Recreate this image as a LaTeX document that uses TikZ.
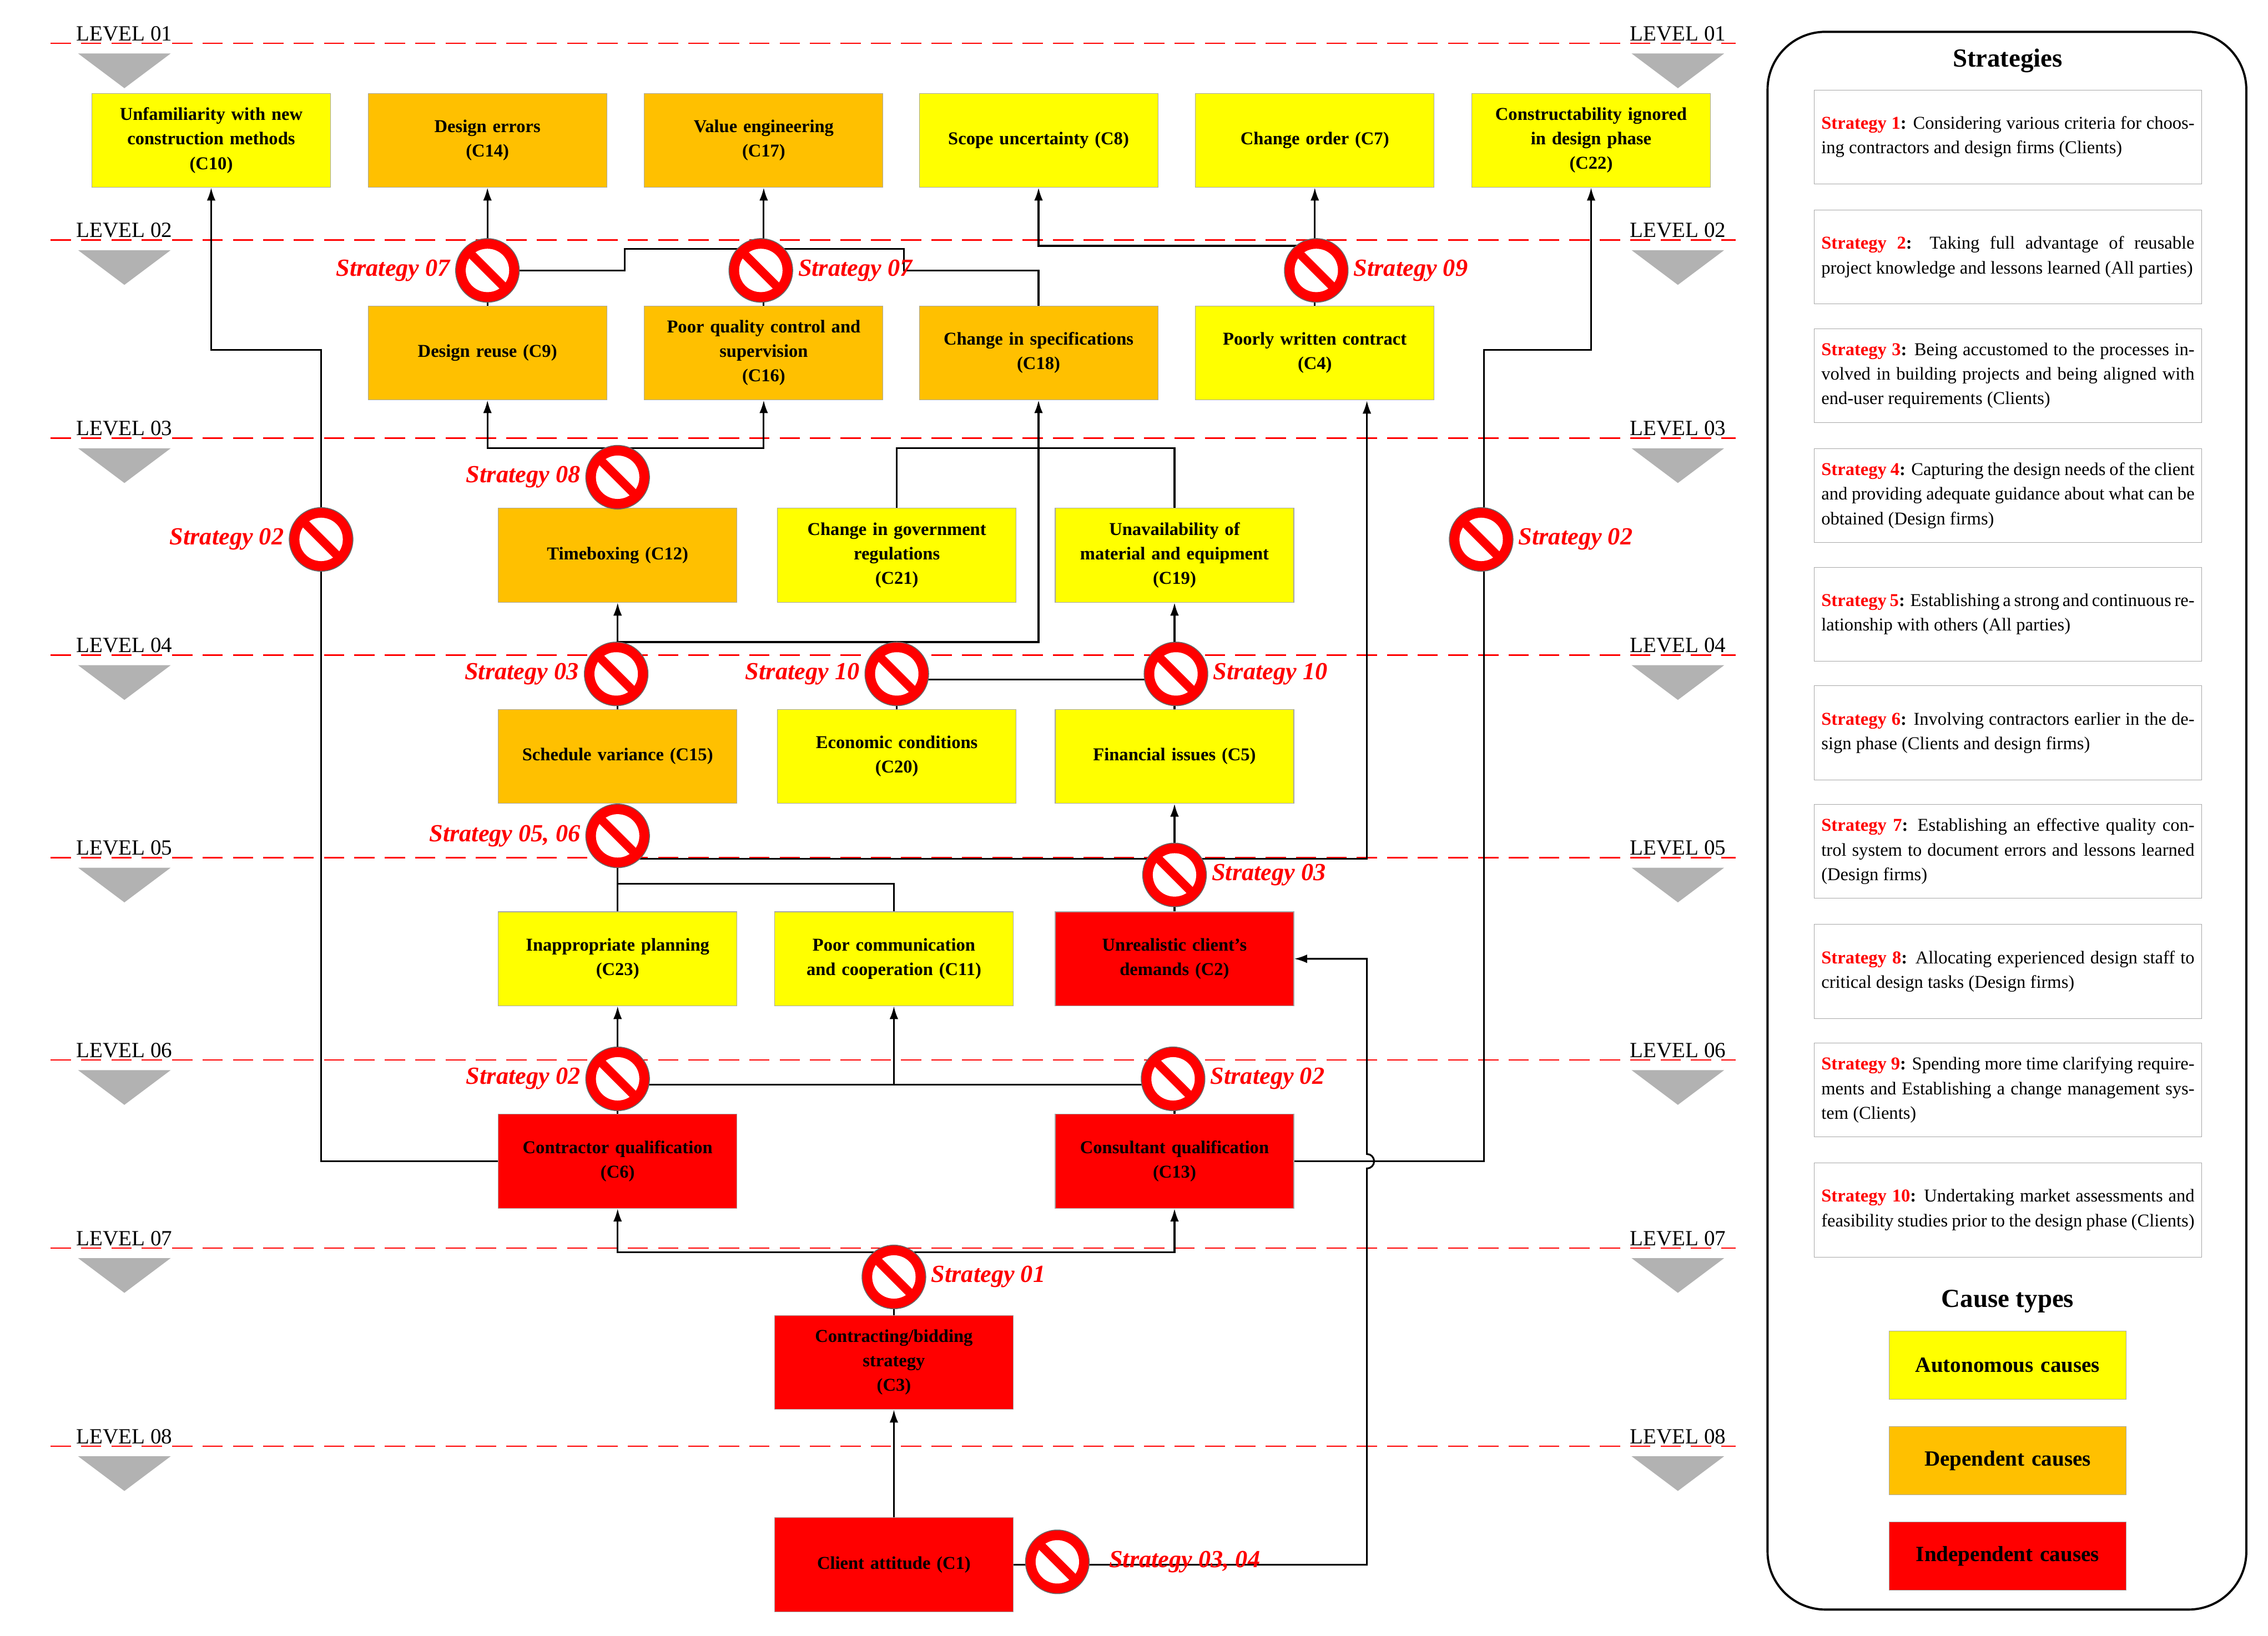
\documentclass[tikz,border=0pt]{standalone}
\usepackage{fontspec}
\setmainfont{Liberation Serif}
\usetikzlibrary{arrows.meta}
\definecolor{orC}{HTML}{FFC000}
\definecolor{yeC}{HTML}{FFFF00}
\definecolor{rdC}{HTML}{FF0000}
\begin{document}
\begin{tikzpicture}[x=1pt,y=-1pt,
 box/.style={draw=gray!70, minimum width=165pt, minimum height=65pt, align=center, text width=158pt, inner sep=1pt, font=\fontsize{12.5}{17}\selectfont\bfseries},
 ya/.style={box,fill=yeC}, oa/.style={box,fill=orC}, ra/.style={box,fill=rdC},
 ar/.style={-{Latex[length=9pt,width=6pt]}, line width=1.2pt},
 ln/.style={line width=1.2pt},
 sl/.style={font=\fontsize{17}{17}\selectfont\bfseries\itshape, text=rdC},
 lv/.style={font=\fontsize{15}{15}\selectfont},
 tri/.style={fill=gray!60, draw=none},
 no/.style={circle, minimum size=44pt, inner sep=0pt, fill=rdC, draw=black!60, line width=0.6pt,
   path picture={\fill[white] (path picture bounding box.center) circle (15pt);
   \draw[rdC, line width=6pt] ([shift={(-12pt,12pt)}]path picture bounding box.center) -- ([shift={(12pt,-12pt)}]path picture bounding box.center);}},
 sb/.style={draw=gray!70, text width=258pt, minimum height=65pt, align=justify, inner sep=5pt, font=\fontsize{12.5}{17}\selectfont, anchor=north west}
]
\useasboundingbox (0,0) rectangle (1568,1131);
\fill[white] (0,0) rectangle (1568,1131);
% levels
\foreach \y/\l in {30/01,166/02,303/03,453/04,593/05,733/06,863/07,1000/08}{
 \draw[rdC, dashed, dash pattern=on 14pt off 7pt, line width=1pt] (35,\y) -- (1200,\y);
 \node[lv, anchor=south] at (86,\y+2) {LEVEL \l};
 \node[lv, anchor=south] at (1160,\y+2) {LEVEL \l};
 \fill[tri] (54,\y+7) -- (118,\y+7) -- (86,\y+31) -- cycle;
 \fill[tri] (1128,\y+7) -- (1192,\y+7) -- (1160,\y+31) -- cycle;
}
% boxes
\node[ya] (C10) at (146,97) {Unfamiliarity with new\\construction methods\\(C10)};
\node[oa] (C14) at (337,97) {Design errors\\(C14)};
\node[oa] (C17) at (528,97) {Value engineering\\(C17)};
\node[ya] (C8) at (718,97) {Scope uncertainty (C8)};
\node[ya] (C7) at (909,97) {Change order (C7)};
\node[ya] (C22) at (1100,97) {Constructability ignored\\in design phase\\(C22)};
\node[oa] (C9) at (337,244) {Design reuse (C9)};
\node[oa] (C16) at (528,244) {Poor quality control and\\supervision\\(C16)};
\node[oa] (C18) at (718,244) {Change in specifications\\(C18)};
\node[ya] (C4) at (909,244) {Poorly written contract\\(C4)};
\node[oa] (C12) at (427,384) {Timeboxing (C12)};
\node[ya] (C21) at (620,384) {Change in government\\regulations\\(C21)};
\node[ya] (C19) at (812,384) {Unavailability of\\material and equipment\\(C19)};
\node[oa] (C15) at (427,523) {Schedule variance (C15)};
\node[ya] (C20) at (620,523) {Economic conditions\\(C20)};
\node[ya] (C5) at (812,523) {Financial issues (C5)};
\node[ya] (C23) at (427,663) {Inappropriate planning\\(C23)};
\node[ya] (C11) at (618,663) {Poor communication\\and cooperation (C11)};
\node[ra] (C2) at (812,663) {Unrealistic client's\\demands (C2)};
\node[ra] (C6) at (427,803) {Contractor qualification\\(C6)};
\node[ra] (C13) at (812,803) {Consultant qualification\\(C13)};
\node[ra] (C3) at (618,942) {Contracting/bidding\\strategy\\(C3)};
\node[ra] (C1) at (618,1082) {Client attitude (C1)};
% connectors
\draw[ar] (C9) -- (C14);
\draw[ln] (C18.north) -- (718,187) -- (625,187) -- (625,172) -- (432,172) -- (432,187) -- (337,187);
\draw[ar] (C16) -- (C17);
\draw[ar] (C4) -- (C7);
\draw[ar] (909,170) -| (C8.south);
\draw[ar] (C6.west) -| (222,242) -| (C10.south);
\draw[ar] (C13.east) -| (1026,242) -| (C22.south);
\draw[ar] (C12.north) -- (427,310) -| (C9.south);
\draw[ar] (427,310) -| (C16.south);
\draw[ln] (C21.north) |- (812,310) -- (C19.north);
\draw[ar] (C15) -- (C12);
\draw[ar] (427,444) -| (C18.south);
\draw[ln] (C20.north) |- (812,470);
\draw[ar] (C5) -- (C19);
\draw[ar] (C23) -- (C15);
\draw[ln] (427,611) -| (C11.north);
\draw[ar] (427,594) -| (945,277);
\draw[ar] (C2) -- (C5);
\draw[ar] (C6) -- (C23);
\draw[ln] (427,750) -- (812,750) -- (C13.north);
\draw[ar] (618,750) -- (C11.south);
\draw[ar] (C3.north) -- (618,866) -| (C6.south);
\draw[ar] (618,866) -| (C13.south);
\draw[ar] (C1) -- (C3);
\draw[ar] (C1.east) -- (945,1082) -- (945,808) arc[start angle=-90,end angle=90,radius=5pt] -- (945,663) -- (C2.east);
% strategy icons
\node[no] (n1) at (337,187) {}; \node[sl, anchor=east] at (n1.west) {Strategy 07};
\node[no] (n2) at (526,187) {}; \node[sl, anchor=west] at (n2.east) {Strategy 07};
\node[no] (n3) at (910,187) {}; \node[sl, anchor=west] at (n3.east) {Strategy 09};
\node[no] (n4) at (427,330) {}; \node[sl, anchor=east] at (n4.west) {Strategy 08};
\node[no] (n5) at (222,373) {}; \node[sl, anchor=east] at (n5.west) {Strategy 02};
\node[no] (n6) at (1024,373) {}; \node[sl, anchor=west] at (n6.east) {Strategy 02};
\node[no] (n7) at (426,466) {}; \node[sl, anchor=east] at (n7.west) {Strategy 03};
\node[no] (n8) at (620,466) {}; \node[sl, anchor=east] at (n8.west) {Strategy 10};
\node[no] (n9) at (813,466) {}; \node[sl, anchor=west] at (n9.east) {Strategy 10};
\node[no] (n10) at (427,578) {}; \node[sl, anchor=east] at (n10.west) {Strategy 05, 06};
\node[no] (n11) at (812,605) {}; \node[sl, anchor=west] at (n11.east) {Strategy 03};
\node[no] (n12) at (427,746) {}; \node[sl, anchor=east] at (n12.west) {Strategy 02};
\node[no] (n13) at (811,746) {}; \node[sl, anchor=west] at (n13.east) {Strategy 02};
\node[no] (n14) at (618,883) {}; \node[sl, anchor=west] at (n14.east) {Strategy 01};
\node[no] (n15) at (731,1080) {}; \node[sl, anchor=west] at ([xshift=10pt]n15.east) {Strategy 03, 04};
% right panel
\draw[line width=1.5pt, rounded corners=40pt] (1222,22) rectangle (1553,1113);
\node[font=\fontsize{18}{18}\selectfont\bfseries] at (1388,42) {Strategies};
\newcommand\stlab[1]{\textcolor{rdC}{\textbf{Strategy #1}}\textbf{:}}
\node[sb] (S1) at (1254,62) {\stlab{1} Considering various criteria for choosing contractors and design firms (Clients)};
\node[sb] (S2) at (1254,145) {\stlab{2} Taking full advantage of reusable project knowledge and lessons learned (All parties)};
\node[sb] (S3) at (1254,227) {\stlab{3} Being accustomed to the processes involved in building projects and being aligned with end-user requirements (Clients)};
\node[sb] (S4) at (1254,310) {\stlab{4} Capturing the design needs of the client and providing adequate guidance about what can be obtained (Design firms)};
\node[sb] (S5) at (1254,392) {\stlab{5} Establishing a strong and continuous relationship with others (All parties)};
\node[sb] (S6) at (1254,474) {\stlab{6} Involving contractors earlier in the design phase (Clients and design firms)};
\node[sb] (S7) at (1254,556) {\stlab{7} Establishing an effective quality control system to document errors and lessons learned (Design firms)};
\node[sb] (S8) at (1254,639) {\stlab{8} Allocating experienced design staff to critical design tasks (Design firms)};
\node[sb] (S9) at (1254,721) {\stlab{9} Spending more time clarifying requirements and Establishing a change management system (Clients)};
\node[sb] (S10) at (1254,804) {\stlab{10} Undertaking market assessments and feasibility studies prior to the design phase (Clients)};
\node[font=\fontsize{18}{18}\selectfont\bfseries] at (1388,900) {Cause types};
\node[box, fill=yeC, minimum width=164pt, minimum height=47pt, font=\fontsize{15}{15}\selectfont\bfseries] (L1) at (1388,944) {Autonomous causes};
\node[box, fill=orC, minimum width=164pt, minimum height=47pt, font=\fontsize{15}{15}\selectfont\bfseries] (L2) at (1388,1010) {Dependent causes};
\node[box, fill=rdC, minimum width=164pt, minimum height=47pt, font=\fontsize{15}{15}\selectfont\bfseries] (L3) at (1388,1076) {Independent causes};
\end{tikzpicture}
\end{document}
